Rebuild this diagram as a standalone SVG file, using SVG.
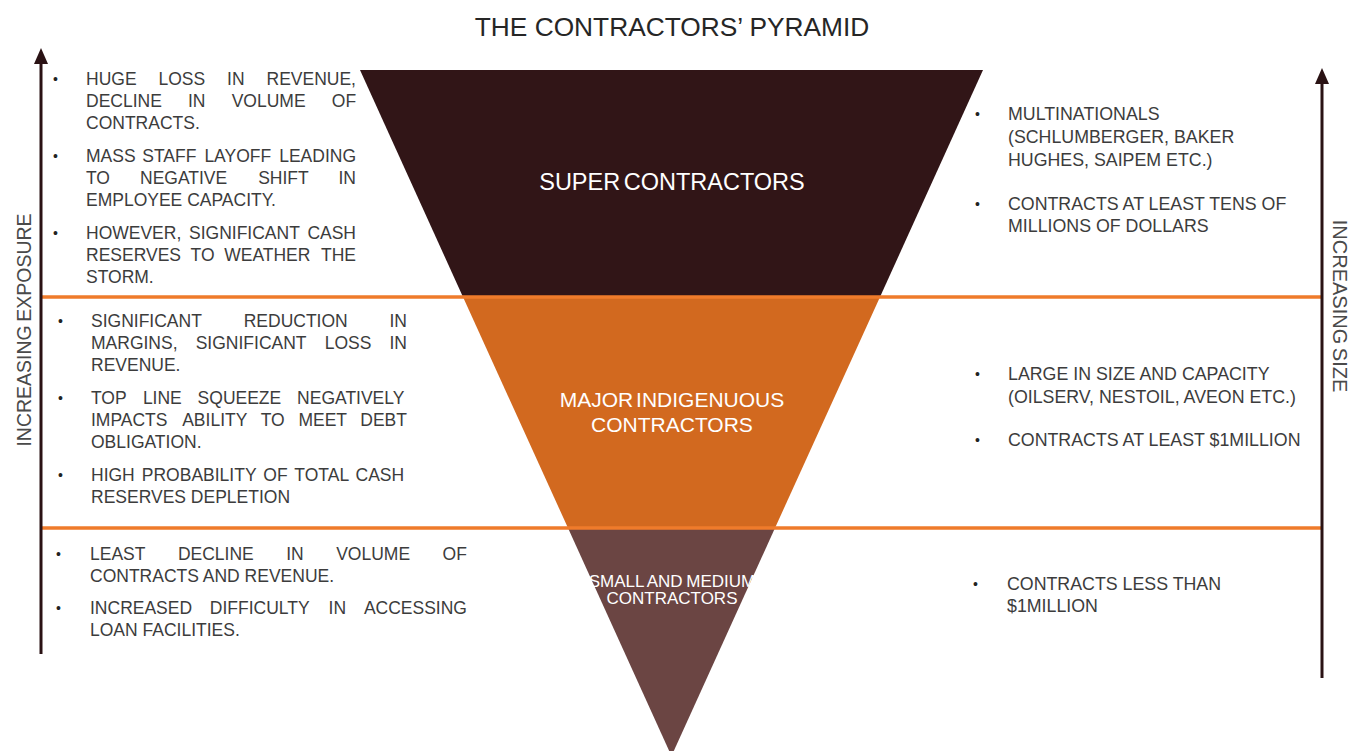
<svg xmlns="http://www.w3.org/2000/svg" width="1361" height="751" viewBox="0 0 1361 751">
  <style>
    .t { font-family: "Liberation Sans", Arial, sans-serif; font-size: 17.5px; fill: #3c3c3c; }
    .r { font-family: "Liberation Sans", Arial, sans-serif; font-size: 17.8px; fill: #3c3c3c; }
    .b { font-family: "Liberation Sans", Arial, sans-serif; font-size: 14px; fill: #222; }
    .lbl { font-family: "Liberation Sans", Arial, sans-serif; fill: #ffffff; text-anchor: middle; }
    .axis { font-family: "Liberation Sans", Arial, sans-serif; fill: #4a4a4a; text-anchor: middle; }
    .divider { stroke: #ef7b2b; stroke-width: 3.5; fill: none; }
    .shaft { stroke: #2a1214; stroke-width: 3; fill: none; }
  </style>
  <defs>
    <!-- upward arrowhead; the shaft stops inside the head so its end stays hidden -->
    <marker id="head" viewBox="0 0 16 14" refX="6" refY="7" markerWidth="16" markerHeight="14" markerUnits="userSpaceOnUse" orient="auto">
      <path d="M0,0 L16,7 L0,14 Z" fill="#2a1214"/>
    </marker>
  </defs>
  <rect width="1361" height="751" fill="#ffffff"/>

  <!-- title -->
  <g id="title">
    <text x="672" y="36" font-family="Liberation Sans, Arial, sans-serif" font-size="26.3" fill="#262626" text-anchor="middle">THE CONTRACTORS’ PYRAMID</text>
  </g>

  <!-- inverted pyramid tiers -->
  <g id="tier-super">
    <polygon points="360,70 983,70 880,297 463,297" fill="#311517"/>
    <text class="lbl" x="672" y="190" font-size="23.5" word-spacing="-3">SUPER CONTRACTORS</text>
  </g>
  <g id="tier-major">
    <polygon points="463,297 880,297 775,528 568,528" fill="#d2691f"/>
    <text class="lbl" x="672" y="407" font-size="21" word-spacing="-3">MAJOR INDIGENUOUS</text>
    <text class="lbl" x="672" y="432" font-size="21">CONTRACTORS</text>
  </g>
  <g id="tier-small">
    <polygon points="568,528 775,528 671.5,756" fill="#6b4543"/>
    <text class="lbl" x="672" y="587" font-size="17" word-spacing="-1">SMALL AND MEDIUM</text>
    <text class="lbl" x="672" y="604" font-size="17">CONTRACTORS</text>
  </g>

  <!-- dividers and axis arrows -->
  <g id="connectors">
    <line class="divider" x1="40" y1="297" x2="1323" y2="297"/>
    <line class="divider" x1="40" y1="528" x2="1323" y2="528"/>
    <line id="axis-exposure" class="shaft" x1="41" y1="654" x2="41" y2="58" marker-end="url(#head)"/>
    <line id="axis-size" class="shaft" x1="1322" y1="678" x2="1322" y2="78" marker-end="url(#head)"/>
  </g>

  <g id="axis-exposure-label">
    <text class="axis" font-size="19.5" transform="translate(31,330) rotate(-90)" word-spacing="-2">INCREASING EXPOSURE</text>
  </g>
  <g id="axis-size-label">
    <text class="axis" font-size="20" transform="translate(1333,306) rotate(90)" word-spacing="-2">INCREASING SIZE</text>
  </g>

  <!-- left notes: super contractors -->
  <g id="notes-super-left">
    <text class="b" x="53" y="84">•</text>
    <text class="t" y="85"><tspan x="86">HUGE</tspan><tspan x="158.5">LOSS</tspan><tspan x="227.1">IN</tspan><tspan x="266.5">REVENUE,</tspan></text>
    <text class="t" y="107"><tspan x="86">DECLINE</tspan><tspan x="188">IN</tspan><tspan x="231.7">VOLUME</tspan><tspan x="331.8">OF</tspan></text>
    <text class="t" x="86" y="129">CONTRACTS.</text>
    <text class="b" x="53" y="161">•</text>
    <text class="t" y="162"><tspan x="86">MASS</tspan><tspan x="142.3">STAFF</tspan><tspan x="204.4">LAYOFF</tspan><tspan x="279.2">LEADING</tspan></text>
    <text class="t" y="184"><tspan x="86">TO</tspan><tspan x="140">NEGATIVE</tspan><tspan x="258.2">SHIFT</tspan><tspan x="338.5">IN</tspan></text>
    <text class="t" x="86" y="206">EMPLOYEE CAPACITY.</text>
    <text class="b" x="53" y="238">•</text>
    <text class="t" y="239"><tspan x="86">HOWEVER,</tspan><tspan x="189">SIGNIFICANT</tspan><tspan x="307.4">CASH</tspan></text>
    <text class="t" y="261"><tspan x="86">RESERVES</tspan><tspan x="190.6">TO</tspan><tspan x="224.2">WEATHER</tspan><tspan x="321">THE</tspan></text>
    <text class="t" x="86" y="283">STORM.</text>
  </g>

  <!-- left notes: major indigenous contractors -->
  <g id="notes-major-left">
    <text class="b" x="58" y="326">•</text>
    <text class="t" y="327"><tspan x="91">SIGNIFICANT</tspan><tspan x="243.7">REDUCTION</tspan><tspan x="389.5">IN</tspan></text>
    <text class="t" y="349"><tspan x="91">MARGINS,</tspan><tspan x="195.7">SIGNIFICANT</tspan><tspan x="324.7">LOSS</tspan><tspan x="389.5">IN</tspan></text>
    <text class="t" x="91" y="371">REVENUE.</text>
    <text class="b" x="58" y="403">•</text>
    <text class="t" y="404"><tspan x="91">TOP</tspan><tspan x="142.9">LINE</tspan><tspan x="197.6">SQUEEZE</tspan><tspan x="297.1">NEGATIVELY</tspan></text>
    <text class="t" y="426"><tspan x="91">IMPACTS</tspan><tspan x="182.2">ABILITY</tspan><tspan x="260.7">TO</tspan><tspan x="298.4">MEET</tspan><tspan x="360.3">DEBT</tspan></text>
    <text class="t" x="91" y="448">OBLIGATION.</text>
    <text class="b" x="58" y="480">•</text>
    <text class="t" x="91" y="481" word-spacing="2.2">HIGH PROBABILITY OF TOTAL CASH</text>
    <text class="t" x="91" y="503">RESERVES DEPLETION</text>
  </g>

  <!-- left notes: small and medium contractors -->
  <g id="notes-small-left">
    <text class="b" x="56" y="559">•</text>
    <text class="t" y="560"><tspan x="90">LEAST</tspan><tspan x="177.9">DECLINE</tspan><tspan x="286.2">IN</tspan><tspan x="336.2">VOLUME</tspan><tspan x="442.6">OF</tspan></text>
    <text class="t" x="90" y="582">CONTRACTS AND REVENUE.</text>
    <text class="b" x="56" y="613">•</text>
    <text class="t" y="614"><tspan x="90">INCREASED</tspan><tspan x="209.8">DIFFICULTY</tspan><tspan x="328.6">IN</tspan><tspan x="363.9">ACCESSING</tspan></text>
    <text class="t" x="90" y="636">LOAN FACILITIES.</text>
  </g>

  <!-- right notes -->
  <g id="notes-super-right">
    <text class="b" x="975" y="119">•</text>
    <text class="r" x="1008" y="120">MULTINATIONALS</text>
    <text class="r" x="1008" y="143">(SCHLUMBERGER, BAKER</text>
    <text class="r" x="1008" y="166">HUGHES, SAIPEM ETC.)</text>
    <text class="b" x="975" y="209">•</text>
    <text class="r" x="1008" y="210">CONTRACTS AT LEAST TENS OF</text>
    <text class="r" x="1008" y="232">MILLIONS OF DOLLARS</text>
  </g>
  <g id="notes-major-right">
    <text class="b" x="975" y="379">•</text>
    <text class="r" x="1008" y="380">LARGE IN SIZE AND CAPACITY</text>
    <text class="r" x="1008" y="403">(OILSERV, NESTOIL, AVEON ETC.)</text>
    <text class="b" x="975" y="445">•</text>
    <text class="r" x="1008" y="446">CONTRACTS AT LEAST $1MILLION</text>
  </g>
  <g id="notes-small-right">
    <text class="b" x="973" y="589">•</text>
    <text class="r" x="1007" y="590">CONTRACTS LESS THAN</text>
    <text class="r" x="1007" y="612">$1MILLION</text>
  </g>
</svg>
